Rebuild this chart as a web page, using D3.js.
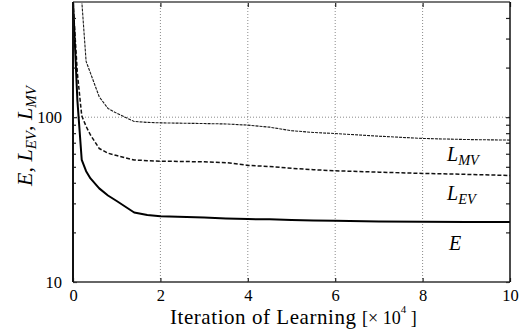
<!DOCTYPE html>
<html>
<head>
<meta charset="utf-8">
<script src="https://cdn.jsdelivr.net/npm/d3@7"></script>
<style>
  html, body { margin: 0; padding: 0; background: #fff; }
  svg { display: block; }
  text { font-family: "Liberation Serif", "Times New Roman", serif; fill: #000; }
</style>
</head>
<body>
<div id="chart"></div>
<script>
// Learning iterations (×10^4) and the three error measures on a log scale
const iterations = [0, 0.1, 0.2, 0.3, 0.4, 0.6, 0.8, 1.0, 1.4, 1.7, 2, 3, 3.5, 4, 4.5, 5, 5.5, 6, 7, 8, 9, 10];
const errorE = [510, 127, 55, 47, 42.5, 37, 33.5, 31, 26.4, 25.5, 25.1, 24.6, 24.3, 24.1, 24.0, 23.8, 23.6, 23.5, 23.3, 23.2, 23.1, 23.1];
const errorLEV = [500, 185, 102, 88, 78, 64.6, 60.5, 58.5, 55, 54.5, 54.1, 53.6, 53, 51, 50.2, 49, 48, 47.3, 46.4, 45.6, 45, 44.3];
const errorLMV = [null, null, 510, 218, 185, 133, 113, 105.7, 94.2, 93, 92.4, 91.5, 91, 89.5, 87, 82.8, 80.8, 79.6, 76.7, 74.3, 73.2, 72.6];

const xTicks = [0, 2, 4, 6, 8, 10];
const yLabelTicks = [10, 100];
const yMinorTicks = [20, 30, 40, 50, 60, 70, 80, 90, 200, 300, 400];

const W = 526, H = 336;
const pLeft = 73, pRight = 510, pTop = 2, pBottom = 282;

const svg = d3.select("#chart").append("svg").attr("width", W).attr("height", H);

const x = d3.scaleLinear().domain([0, 10]).range([pLeft, pRight]);
const y = d3.scaleLog().domain([10, 500]).range([pBottom, pTop]);

svg.append("defs").append("clipPath").attr("id", "plot")
  .append("rect").attr("x", pLeft).attr("y", pTop).attr("width", pRight - pLeft).attr("height", pBottom - pTop);

// dotted grid
const grid = svg.append("g").attr("stroke", "#8a8a8a").attr("stroke-width", 1).attr("stroke-dasharray", "1,2");
grid.selectAll(".gx").data(xTicks.slice(1, -1)).join("line")
  .attr("x1", d => x(d)).attr("x2", d => x(d)).attr("y1", pTop).attr("y2", pBottom);
grid.append("line").attr("x1", pLeft).attr("x2", pRight).attr("y1", y(100)).attr("y2", y(100));

// curves
const curves = svg.append("g").attr("clip-path", "url(#plot)").attr("fill", "none");
function drawSeries(values, width, dash, color) {
  const line = d3.line()
    .defined((d, i) => values[i] != null)
    .x((d, i) => x(iterations[i]))
    .y((d, i) => y(values[i]));
  curves.append("path").datum(values)
    .attr("d", line)
    .attr("stroke", color)
    .attr("stroke-width", width)
    .attr("stroke-dasharray", dash)
    .attr("stroke-linejoin", "round");
}
drawSeries(errorLMV, 1.1, "3,1", "#1a1a1a");
drawSeries(errorLEV, 1.5, "4,2", "#111");
drawSeries(errorE, 2, null, "#000");

// axes: bottom/top ticks inward, left/right log ticks inward
const bottomAxis = d3.axisBottom(x).tickValues(xTicks).tickSize(-4).tickPadding(14).tickFormat(d3.format("d"));
const gB = svg.append("g").attr("transform", `translate(0,${pBottom})`).call(bottomAxis);
const topAxis = d3.axisTop(x).tickValues(xTicks).tickSize(-5).tickFormat("");
const gT = svg.append("g").attr("transform", `translate(0,${pTop})`).call(topAxis);

const leftAxis = d3.axisLeft(y).tickValues(yLabelTicks).tickSize(-4).tickPadding(11).tickFormat(d3.format("d"));
const gL = svg.append("g").attr("transform", `translate(${pLeft},0)`).call(leftAxis);
const gLm = svg.append("g").attr("transform", `translate(${pLeft},0)`)
  .call(d3.axisLeft(y).tickValues(yMinorTicks).tickSize(-3).tickFormat(""));
const gR = svg.append("g").attr("transform", `translate(${pRight},0)`)
  .call(d3.axisRight(y).tickValues(yLabelTicks.concat(yMinorTicks)).tickSize(-4).tickFormat(""));

[gB, gT, gL, gLm, gR].forEach(g => {
  g.select(".domain").remove();
  g.selectAll(".tick line").attr("stroke", "#222").attr("stroke-width", 1.2);
  g.selectAll(".tick text").attr("font-size", 16.5).attr("font-family", "Liberation Serif, Times New Roman, serif");
});
gB.selectAll(".tick text").attr("dy", "0.3em");

// frame
svg.append("line").attr("x1", pLeft).attr("x2", pRight).attr("y1", pTop).attr("y2", pTop)
  .attr("stroke", "#777").attr("stroke-width", 2);
svg.append("line").attr("x1", pLeft).attr("x2", pRight).attr("y1", pBottom).attr("y2", pBottom)
  .attr("stroke", "#333").attr("stroke-width", 1.5);
svg.append("line").attr("x1", pLeft).attr("x2", pLeft).attr("y1", pTop).attr("y2", pBottom)
  .attr("stroke", "#111").attr("stroke-width", 2);
svg.append("line").attr("x1", pRight).attr("x2", pRight).attr("y1", pTop).attr("y2", pBottom)
  .attr("stroke", "#111").attr("stroke-width", 1.5);

// curve labels
function seriesLabel(px, py, main, sub, size) {
  const t = svg.append("text").attr("x", px).attr("y", py)
    .attr("font-size", size).attr("font-style", "italic");
  t.append("tspan").text(main);
  if (sub) t.append("tspan").attr("font-size", size * 0.72).attr("dy", 4).text(sub);
}
seriesLabel(447, 161, "L", "MV", 20);
seriesLabel(447, 200, "L", "EV", 20);
seriesLabel(449, 250, "E", null, 20);

// x-axis title
const xt = svg.append("text").attr("y", 324);
xt.append("tspan").attr("x", 170).attr("font-size", 21)
  .attr("textLength", 186).attr("lengthAdjust", "spacing").text("Iteration of Learning");
xt.append("tspan").attr("x", 362).attr("font-size", 18).text("[× 10");
xt.append("tspan").attr("font-size", 11).attr("dy", -11).text("4");
xt.append("tspan").attr("font-size", 18).attr("dy", 11).text(" ]");

// y-axis title
const yt = svg.append("text").attr("transform", "translate(32,186) rotate(-90)")
  .attr("font-size", 22).attr("font-style", "italic");
yt.append("tspan").text("E");
yt.append("tspan").attr("font-style", "normal").text(", ");
yt.append("tspan").text("L");
yt.append("tspan").attr("font-size", 15).attr("dy", 4).text("EV");
yt.append("tspan").attr("dy", -4).attr("font-style", "normal").text(", ");
yt.append("tspan").text("L");
yt.append("tspan").attr("font-size", 15).attr("dy", 4).text("MV");
</script>
</body>
</html>
